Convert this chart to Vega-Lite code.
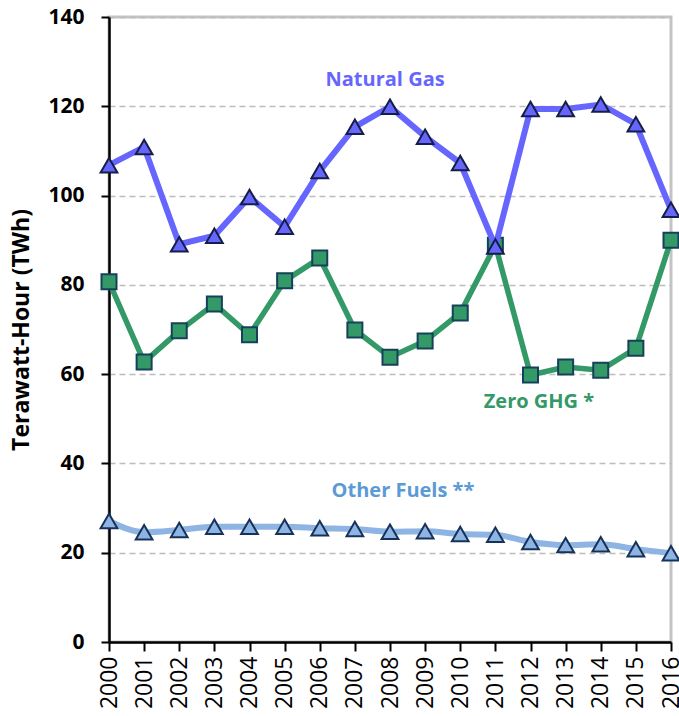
{
  "$schema": "https://vega.github.io/schema/vega-lite/v6.json",
  "width": 562,
  "height": 625,
  "autosize": "none",
  "padding": {"left": 109, "top": 17, "right": 8, "bottom": 74},
  "background": "white",
  "config": {
    "view": {"stroke": "#c4c4c4", "strokeWidth": 3},
    "font": "Open Sans"
  },
  "datasets": {
    "main": [
      {"year": 2000, "series": "Natural Gas", "value": 106.8},
      {"year": 2001, "series": "Natural Gas", "value": 110.9},
      {"year": 2002, "series": "Natural Gas", "value": 89.1},
      {"year": 2003, "series": "Natural Gas", "value": 91.0},
      {"year": 2004, "series": "Natural Gas", "value": 99.7},
      {"year": 2005, "series": "Natural Gas", "value": 93.0},
      {"year": 2006, "series": "Natural Gas", "value": 105.5},
      {"year": 2007, "series": "Natural Gas", "value": 115.4},
      {"year": 2008, "series": "Natural Gas", "value": 119.9},
      {"year": 2009, "series": "Natural Gas", "value": 113.2},
      {"year": 2010, "series": "Natural Gas", "value": 107.3},
      {"year": 2011, "series": "Natural Gas", "value": 88.6},
      {"year": 2012, "series": "Natural Gas", "value": 119.4},
      {"year": 2013, "series": "Natural Gas", "value": 119.4},
      {"year": 2014, "series": "Natural Gas", "value": 120.4},
      {"year": 2015, "series": "Natural Gas", "value": 116.0},
      {"year": 2016, "series": "Natural Gas", "value": 96.8},
      {"year": 2000, "series": "Zero GHG", "value": 80.7},
      {"year": 2001, "series": "Zero GHG", "value": 62.7},
      {"year": 2002, "series": "Zero GHG", "value": 69.7},
      {"year": 2003, "series": "Zero GHG", "value": 75.7},
      {"year": 2004, "series": "Zero GHG", "value": 68.8},
      {"year": 2005, "series": "Zero GHG", "value": 80.9},
      {"year": 2006, "series": "Zero GHG", "value": 86.0},
      {"year": 2007, "series": "Zero GHG", "value": 69.9},
      {"year": 2008, "series": "Zero GHG", "value": 63.8},
      {"year": 2009, "series": "Zero GHG", "value": 67.4},
      {"year": 2010, "series": "Zero GHG", "value": 73.7},
      {"year": 2011, "series": "Zero GHG", "value": 88.9},
      {"year": 2012, "series": "Zero GHG", "value": 59.8},
      {"year": 2013, "series": "Zero GHG", "value": 61.6},
      {"year": 2014, "series": "Zero GHG", "value": 60.9},
      {"year": 2015, "series": "Zero GHG", "value": 65.8},
      {"year": 2016, "series": "Zero GHG", "value": 90.0},
      {"year": 2000, "series": "Other Fuels", "value": 27.1},
      {"year": 2001, "series": "Other Fuels", "value": 24.6},
      {"year": 2002, "series": "Other Fuels", "value": 25.1},
      {"year": 2003, "series": "Other Fuels", "value": 25.8},
      {"year": 2004, "series": "Other Fuels", "value": 25.8},
      {"year": 2005, "series": "Other Fuels", "value": 25.8},
      {"year": 2006, "series": "Other Fuels", "value": 25.5},
      {"year": 2007, "series": "Other Fuels", "value": 25.3},
      {"year": 2008, "series": "Other Fuels", "value": 24.7},
      {"year": 2009, "series": "Other Fuels", "value": 24.8},
      {"year": 2010, "series": "Other Fuels", "value": 24.2},
      {"year": 2011, "series": "Other Fuels", "value": 24.0},
      {"year": 2012, "series": "Other Fuels", "value": 22.4},
      {"year": 2013, "series": "Other Fuels", "value": 21.7},
      {"year": 2014, "series": "Other Fuels", "value": 21.9},
      {"year": 2015, "series": "Other Fuels", "value": 20.8},
      {"year": 2016, "series": "Other Fuels", "value": 19.9}
    ],
    "labels": [
      {"year": 2007.86, "value": 125.9, "label": "Natural Gas", "color": "Natural Gas"},
      {"year": 2012.24, "value": 53.8, "label": "Zero GHG *", "color": "Zero GHG"},
      {"year": 2008.37, "value": 33.8, "label": "Other Fuels **", "color": "Other Fuels"}
    ]
  },
  "data": {"name": "main"},
  "encoding": {
    "x": {
      "field": "year",
      "type": "quantitative",
      "scale": {"domain": [2000, 2016], "nice": false, "zero": false},
      "axis": {
        "title": null,
        "values": [2000, 2001, 2002, 2003, 2004, 2005, 2006, 2007, 2008, 2009, 2010, 2011, 2012, 2013, 2014, 2015, 2016],
        "format": "d",
        "labelAngle": -90,
        "labelFont": "Open Sans",
        "labelFontSize": 23,
        "labelColor": "#000000",
        "labelPadding": 5,
        "labelFlush": false,
        "labelOverlap": false,
        "tickSize": 9,
        "tickColor": "#000000",
        "tickWidth": 2,
        "domainColor": "#000000",
        "domainWidth": 2.5,
        "grid": false
      }
    },
    "y": {
      "field": "value",
      "type": "quantitative",
      "scale": {"domain": [0, 140], "nice": false},
      "axis": {
        "title": "Terawatt-Hour (TWh)",
        "titleFont": "Open Sans",
        "titleFontSize": 23,
        "titleFontWeight": "bold",
        "titleColor": "#000000",
        "titlePadding": 14,
        "values": [0, 20, 40, 60, 80, 100, 120, 140],
        "labelFont": "Open Sans",
        "labelFontSize": 21,
        "labelFontWeight": "bold",
        "labelColor": "#000000",
        "labelPadding": 17,
        "labelFlush": false,
        "tickSize": 8,
        "tickColor": "#000000",
        "tickWidth": 2,
        "domainColor": "#000000",
        "domainWidth": 2.5,
        "grid": true,
        "gridColor": "#bdbdbd",
        "gridDash": [6, 4],
        "gridWidth": 1.5
      }
    }
  },
  "layer": [
    {
      "transform": [{"filter": "datum.series === 'Other Fuels'"}],
      "mark": {"type": "line", "color": "#8db4e2", "strokeWidth": 6, "interpolate": "monotone"}
    },
    {
      "transform": [{"filter": "datum.series === 'Other Fuels'"}],
      "mark": {"type": "point", "shape": "triangle-up", "size": 280, "filled": true, "fill": "#8db4e2", "stroke": "#17325a", "strokeWidth": 2, "opacity": 1}
    },
    {
      "transform": [{"filter": "datum.series === 'Zero GHG'"}],
      "mark": {"type": "line", "color": "#339966", "strokeWidth": 5.5}
    },
    {
      "transform": [{"filter": "datum.series === 'Zero GHG'"}],
      "mark": {"type": "point", "shape": "square", "size": 225, "filled": true, "fill": "#339966", "stroke": "#17405a", "strokeWidth": 2, "opacity": 1}
    },
    {
      "transform": [{"filter": "datum.series === 'Natural Gas'"}],
      "mark": {"type": "line", "color": "#6666ff", "strokeWidth": 6}
    },
    {
      "transform": [{"filter": "datum.series === 'Natural Gas'"}],
      "mark": {"type": "point", "shape": "triangle-up", "size": 280, "filled": true, "fill": "#6666ff", "stroke": "#141e46", "strokeWidth": 2, "opacity": 1}
    },
    {
      "data": {"name": "labels"},
      "mark": {"type": "text", "font": "Open Sans", "fontWeight": "bold", "fontSize": 20, "align": "center", "baseline": "middle"},
      "encoding": {
        "text": {"field": "label"},
        "color": {
          "field": "color",
          "type": "nominal",
          "scale": {"domain": ["Natural Gas", "Zero GHG", "Other Fuels"], "range": ["#6666ff", "#339966", "#5b9bd5"]},
          "legend": null
        }
      }
    }
  ]
}
